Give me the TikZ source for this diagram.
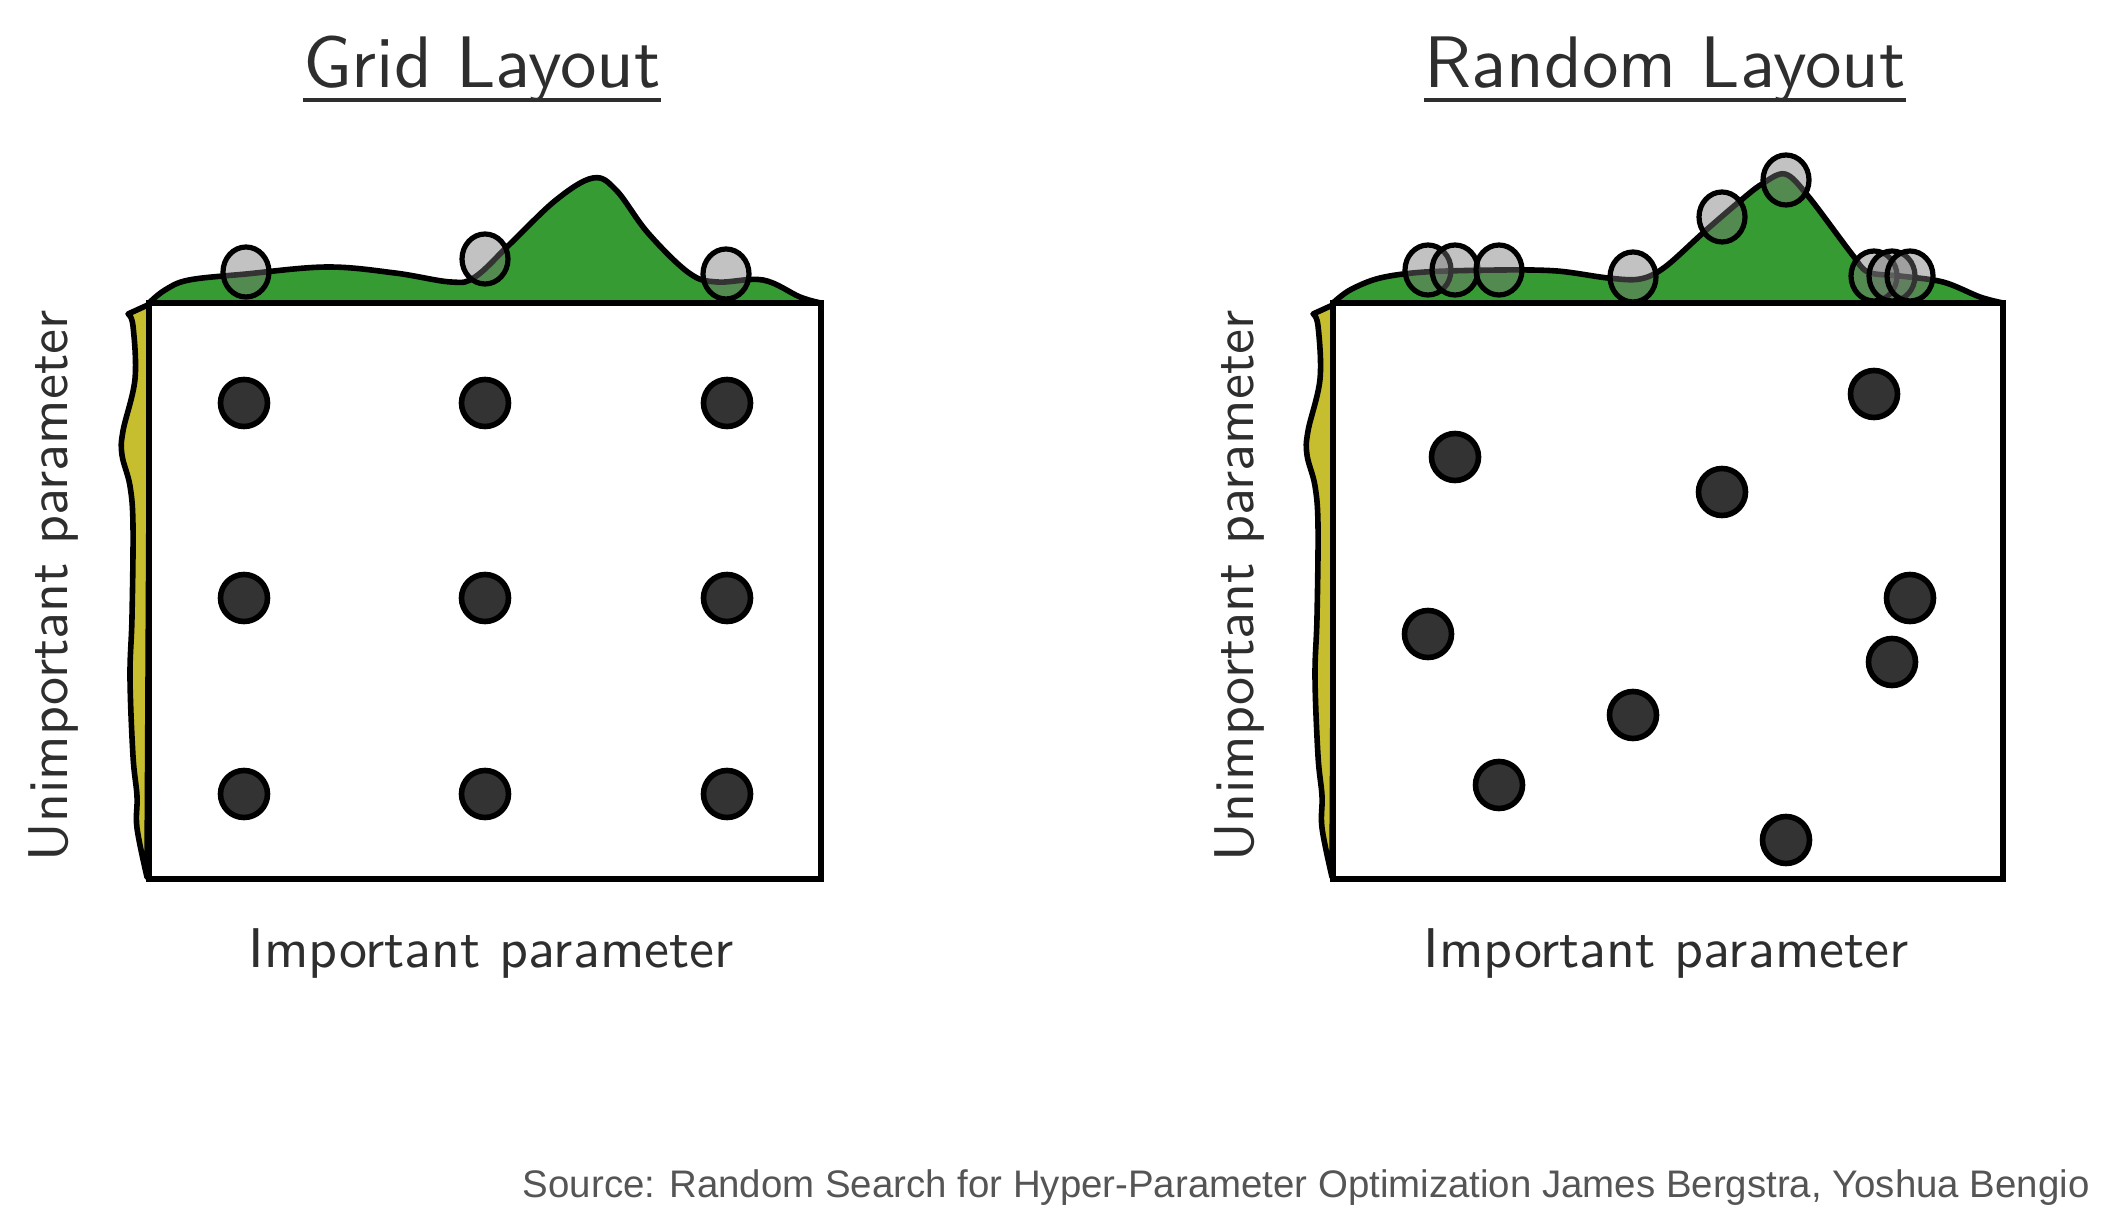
\documentclass[tikz,border=0pt]{standalone}
\usepackage{fontspec}
\newfontfamily\srcfont{Liberation Sans}
\newfontfamily\lmsx{lmsans10-regular.otf}
\usetikzlibrary{shapes.geometric}
\definecolor{dens}{HTML}{379B34}
\definecolor{ydens}{HTML}{C6BE2E}
\definecolor{dotfill}{HTML}{333333}
\definecolor{txt}{HTML}{2E2E2E}
\definecolor{srcgray}{HTML}{555555}
\definecolor{mark}{rgb}{0.46,0.46,0.46}
\tikzset{
  densline/.style={draw=black, line width=2.8pt, line join=round},
  framebox/.style={draw=black, line width=3.3pt, fill=white},
  dotnode/.style={circle, draw=black, fill=dotfill, line width=2.8pt, minimum size=23.5pt, inner sep=0pt},
  marknode/.style={ellipse, draw=black, line width=2.6pt, fill=mark, fill opacity=0.44, minimum width=23pt, minimum height=25pt, inner sep=0pt},
  titletxt/.style={inner sep=0pt, anchor=base, text=txt, font=\lmsx\fontsize{36.5}{40}\selectfont},
  lbltxt/.style={inner sep=0pt, anchor=base, text=txt, font=\lmsx\fontsize{28}{32}\selectfont},
  srctxt/.style={inner sep=0pt, anchor=base east, text=srcgray, font=\srcfont\fontsize{19.2}{22}\selectfont},
  uline/.style={draw=txt, line width=2pt}
}
\begin{document}
\begin{tikzpicture}[x=0.5pt,y=-0.5pt]
\useasboundingbox (0,0) rectangle (2118,1224);
\fill[white] (0,0) rectangle (2118,1224);

% ---------- titles ----------
\node[titletxt] (tg) at (482,88) {Grid Layout};
\draw[uline] ([yshift=-6pt]tg.base west) -- ([yshift=-6pt]tg.base east);
\node[titletxt] (tr) at (1665,88) {Random Layout};
\draw[uline] ([yshift=-6pt]tr.base west) -- ([yshift=-6pt]tr.base east);

% ---------- grid layout densities ----------
\draw[densline, fill=dens] plot[smooth, tension=0.6] coordinates {
  (149,303) (165,290) (189,280) (246,274) (327,267) (395,273) (451,282)
  (475,277) (510,244) (556,200) (593,178) (616,190) (648,233) (689,273)
  (717,282) (763,280) (800,297) (821,303)} -- cycle;
\draw[densline, fill=ydens] (150,304) -- plot[smooth, tension=0.6] coordinates {
  (128,314) (133,326) (135,379) (123,431) (122,455) (130,486) (133,526)
  (132,617) (130,677) (133,756) (137,796) (137,828) (147,877)} -- cycle;
\draw[framebox] (149,303) rectangle (821,879);

% ---------- random layout densities ----------
\draw[densline, fill=dens] plot[smooth, tension=0.55] coordinates {
  (1333,303) (1350,290) (1380,278) (1425,272) (1500,270) (1557,271) (1608,278)
  (1640,279) (1665,267) (1704,232) (1740,201) (1762,184) (1785,174) (1808,196)
  (1851,253) (1868,272) (1900,276) (1943,282) (1980,297) (2003,303)} -- cycle;
\begin{scope}[shift={(1185,0)}]
\draw[densline, fill=ydens] (150,304) -- plot[smooth, tension=0.6] coordinates {
  (128,314) (133,326) (135,379) (123,431) (122,455) (130,486) (133,526)
  (132,617) (130,677) (133,756) (137,796) (137,828) (147,877)} -- cycle;
\end{scope}
\draw[framebox] (1333,303) rectangle (2003,879);

% ---------- grid markers ----------
\node[marknode] (gm1) at (246,272) {};
\node[marknode] (gm2) at (485,259) {};
\node[marknode] (gm3) at (726,274) {};

% ---------- random markers ----------
\node[marknode] (rm1) at (1428,270) {};
\node[marknode] (rm2) at (1455,270) {};
\node[marknode] (rm3) at (1499,270) {};
\node[marknode] (rm4) at (1633,277) {};
\node[marknode] (rm5) at (1722,217) {};
\node[marknode] (rm6) at (1786,180) {};
\node[marknode] (rm7) at (1874,276) {};
\node[marknode] (rm8) at (1892,276) {};
\node[marknode] (rm9) at (1910,276) {};

% ---------- grid dots ----------
\node[dotnode] (g11) at (244,403) {};
\node[dotnode] (g12) at (485,403) {};
\node[dotnode] (g13) at (727,403) {};
\node[dotnode] (g21) at (244,598) {};
\node[dotnode] (g22) at (485,598) {};
\node[dotnode] (g23) at (727,598) {};
\node[dotnode] (g31) at (244,794) {};
\node[dotnode] (g32) at (485,794) {};
\node[dotnode] (g33) at (727,794) {};

% ---------- random dots ----------
\node[dotnode] (r1) at (1874,394) {};
\node[dotnode] (r2) at (1455,457) {};
\node[dotnode] (r3) at (1722,492) {};
\node[dotnode] (r4) at (1910,598) {};
\node[dotnode] (r5) at (1428,634) {};
\node[dotnode] (r6) at (1892,662) {};
\node[dotnode] (r7) at (1633,715) {};
\node[dotnode] (r8) at (1499,785) {};
\node[dotnode] (r9) at (1786,840) {};

% ---------- axis labels ----------
\node[lbltxt, rotate=90] (uy1) at (67,586) {Unimportant parameter};
\node[lbltxt, rotate=90] (uy2) at (1253,586) {Unimportant parameter};
\node[lbltxt] (ix1) at (491,967) {Important parameter};
\node[lbltxt] (ix2) at (1666,967) {Important parameter};

% ---------- source ----------
\node[srctxt] (src) at (2090,1197) {Source: Random Search for Hyper-Parameter Optimization James Bergstra, Yoshua Bengio};
\end{tikzpicture}
\end{document}
